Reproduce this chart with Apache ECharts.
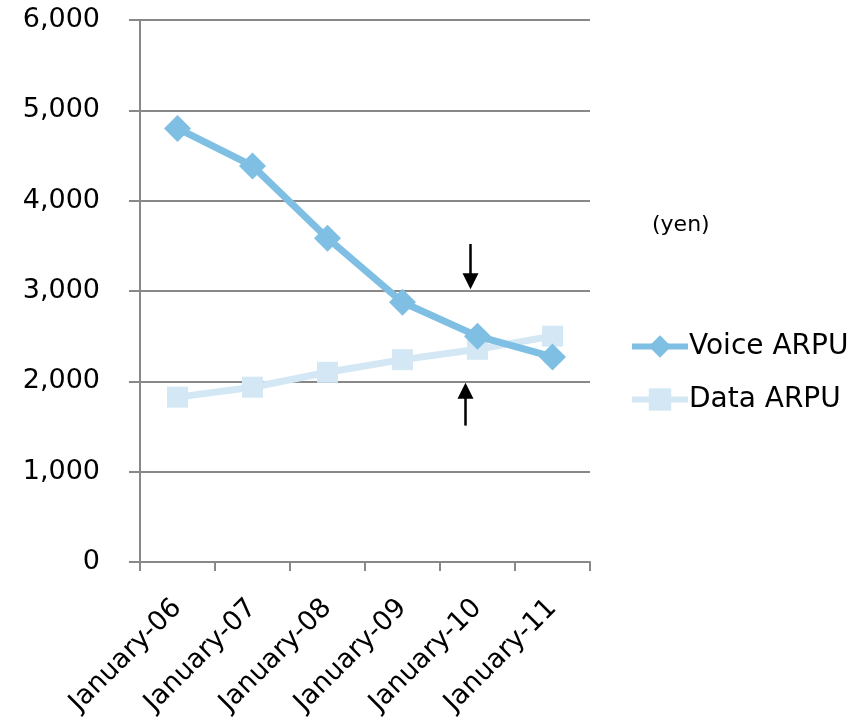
<!DOCTYPE html>
<html><head><meta charset="utf-8">
<script src="https://cdn.jsdelivr.net/npm/echarts@6/dist/echarts.min.js"></script>
<style>html,body{margin:0;padding:0;background:#fff}#c{width:865px;height:728px}</style>
</head><body><div id="c"></div>
<script>
const categories = ['January-06','January-07','January-08','January-09','January-10','January-11'];
const voiceARPU = [4800, 4385, 3585, 2875, 2500, 2270];
const dataARPU = [1825, 1935, 2100, 2240, 2355, 2500];
const yTicks = [0, 1000, 2000, 3000, 4000, 5000, 6000];
const FONT = 'DejaVu Sans';
const chart = echarts.init(document.getElementById('c'));
chart.setOption({
  animation: false,
  grid: {left: 140, right: 275, top: 20, bottom: 166},
  legend: {
    orient: 'vertical', left: 624, top: 326, itemWidth: 56, itemHeight: 28, itemGap: 22,
    lineStyle: {width: 6},
    textStyle: {fontFamily: FONT, fontSize: 28, color: '#000', lineHeight: 31, padding: [0,0,0,-4]},
    data: ['Voice ARPU', 'Data ARPU']
  },
  xAxis: {
    type: 'category', data: categories, boundaryGap: true,
    axisLine: {lineStyle: {color: '#888', width: 2}},
    axisTick: {show: true, length: 9, lineStyle: {color: '#888', width: 2}},
    axisLabel: {rotate: 45, fontFamily: FONT, fontSize: 27, color: '#000', margin: 42, interval: 0}
  },
  yAxis: {
    type: 'value', min: yTicks[0], max: yTicks[yTicks.length-1], interval: 1000,
    axisLine: {show: true, lineStyle: {color: '#888', width: 2}},
    axisTick: {show: true, length: 11, lineStyle: {color: '#888', width: 2}},
    splitLine: {lineStyle: {color: '#888', width: 2}},
    axisLabel: {fontFamily: FONT, fontSize: 27, color: '#000', margin: 40,
      formatter: v => v.toLocaleString('en-US')}
  },
  series: [
    {name: 'Voice ARPU', type: 'line', data: voiceARPU, symbol: 'diamond', symbolSize: 27,
     lineStyle: {color: '#7fbfe3', width: 7}, itemStyle: {color: '#7fbfe3'}, z: 3},
    {name: 'Data ARPU', type: 'line', data: dataARPU, symbol: 'rect', symbolSize: 21,
     lineStyle: {color: '#d3e8f4', width: 7}, itemStyle: {color: '#d3e8f4'}, z: 2}
  ]
});
function arrow(x, y1, y2) {
  const dir = y2 > y1 ? 1 : -1;
  return [
    {type: 'line', shape: {x1: x, y1: y1, x2: x, y2: y2 - dir*12}, style: {stroke: '#000', lineWidth: 2.5}, z: 10},
    {type: 'polygon', shape: {points: [[x-8, y2 - dir*16], [x+8, y2 - dir*16], [x, y2]]}, style: {fill: '#000'}, z: 10}
  ];
}
const cx = chart.convertToPixel({xAxisIndex: 0}, 'January-10');
const py = v => chart.convertToPixel({yAxisIndex: 0}, v);
chart.setOption({graphic: [
  ...arrow(cx - 7, py(3520), py(3020)),
  ...arrow(cx - 12, py(1510), py(1985)),
  {type: 'text', left: 652, top: 214, style: {text: '(yen)', fontFamily: FONT, fontSize: 22, fill: '#000'}}
]});
</script></body></html>
